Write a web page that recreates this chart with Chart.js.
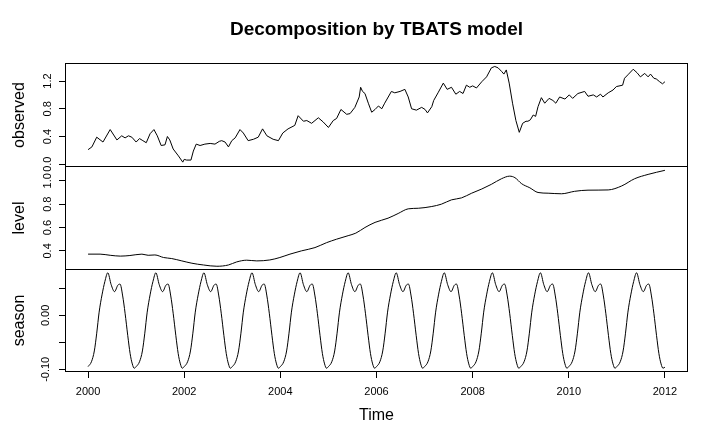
<!DOCTYPE html>
<html>
<head>
<meta charset="utf-8">
<script src="https://cdn.jsdelivr.net/npm/chart.js@4.4.0/dist/chart.umd.min.js"></script>
<style>
  body { margin: 0; background: #fff; }
  .panel { position: absolute; left: 0; width: 715px; }
</style>
</head>
<body>
<div class="panel" style="top:0;height:180px"><canvas id="obsChart"></canvas></div>
<div class="panel" style="top:166px;height:104px"><canvas id="levelChart"></canvas></div>
<div class="panel" style="top:269px;height:179px"><canvas id="seasonChart"></canvas></div>
<script>
// observed series (decimal years, value)
const obsTime = [2000.00,2000.08,2000.18,2000.31,2000.46,2000.60,2000.70,2000.77,2000.84,2000.91,
  2001.00,2001.07,2001.14,2001.21,2001.29,2001.37,2001.44,2001.52,2001.60,2001.65,2001.70,2001.77,2001.88,2001.97,
  2002.00,2002.05,2002.14,2002.19,2002.25,2002.33,2002.43,2002.54,2002.64,2002.73,2002.78,2002.85,2002.92,2002.99,
  2003.06,2003.16,2003.23,2003.33,2003.44,2003.54,2003.63,2003.72,2003.85,2003.96,
  2004.05,2004.16,2004.30,2004.37,2004.48,2004.55,2004.65,2004.79,2004.89,
  2005.00,2005.10,2005.17,2005.26,2005.38,2005.45,2005.55,2005.64,2005.67,2005.71,2005.76,2005.83,2005.90,2005.97,
  2006.04,2006.11,2006.17,2006.31,2006.38,2006.49,2006.59,2006.66,2006.73,2006.83,2006.94,
  2007.01,2007.06,2007.15,2007.19,2007.28,2007.39,2007.47,2007.56,2007.65,2007.73,2007.80,2007.87,2007.94,
  2008.00,2008.08,2008.19,2008.29,2008.39,2008.46,2008.53,2008.60,2008.65,2008.70,2008.76,2008.83,2008.90,2008.97,
  2009.04,2009.11,2009.15,2009.20,2009.26,2009.31,2009.36,2009.43,2009.50,2009.59,2009.67,2009.73,2009.81,2009.92,
  2010.01,2010.08,2010.19,2010.33,2010.40,2010.51,2010.58,2010.66,2010.71,2010.82,2010.92,2010.99,
  2011.12,2011.16,2011.23,2011.34,2011.42,2011.49,2011.58,2011.65,2011.70,2011.77,2011.82,2011.89,2011.95,2012.00];
const obsValue = [0.21,0.25,0.39,0.32,0.50,0.35,0.41,0.38,0.41,0.39,
  0.32,0.37,0.34,0.31,0.44,0.50,0.41,0.27,0.28,0.40,0.35,0.22,0.12,0.03,
  0.07,0.06,0.06,0.19,0.29,0.27,0.29,0.30,0.29,0.33,0.34,0.32,0.25,0.34,
  0.38,0.50,0.45,0.34,0.36,0.39,0.51,0.41,0.36,0.34,
  0.45,0.51,0.56,0.70,0.62,0.63,0.59,0.67,0.61,
  0.53,0.63,0.66,0.79,0.72,0.73,0.82,0.97,1.11,1.05,1.02,0.88,0.75,0.79,
  0.84,0.80,0.88,1.05,1.03,1.05,1.08,0.97,0.80,0.78,0.82,
  0.79,0.74,0.83,0.92,1.03,1.17,1.08,1.11,1.01,1.05,1.02,1.14,1.11,
  1.13,1.10,1.19,1.26,1.39,1.41,1.39,1.34,1.30,1.36,1.17,0.88,0.63,0.46,
  0.59,0.62,0.62,0.64,0.71,0.69,0.83,0.96,0.88,0.95,0.92,0.88,0.97,0.94,
  1.00,0.95,1.02,1.05,0.98,1.00,0.97,1.01,0.97,1.03,1.07,1.12,
  1.14,1.24,1.29,1.37,1.32,1.26,1.31,1.26,1.30,1.24,1.23,1.19,1.16,1.19];

// level series
const levelTime = [2000.00,2000.25,2000.46,2000.67,2000.87,2001.12,2001.25,2001.39,2001.57,2001.74,2001.95,
  2002.16,2002.40,2002.68,2002.92,2003.09,2003.30,2003.51,2003.78,2003.99,2004.20,2004.44,2004.72,2004.96,
  2005.17,2005.41,2005.57,2005.76,2005.97,2006.24,2006.45,2006.66,2006.87,2007.15,2007.35,2007.56,2007.77,2007.98,
  2008.19,2008.39,2008.60,2008.77,2008.88,2009.02,2009.19,2009.36,2009.57,2009.85,2010.12,2010.40,2010.82,
  2011.10,2011.37,2011.65,2012.00];
const levelValue = [0.372,0.372,0.362,0.355,0.360,0.372,0.362,0.365,0.343,0.334,0.314,
  0.294,0.279,0.268,0.279,0.305,0.320,0.314,0.322,0.343,0.372,0.400,0.428,0.470,
  0.500,0.530,0.552,0.600,0.644,0.680,0.720,0.760,0.765,0.780,0.800,0.837,0.854,0.894,
  0.930,0.970,1.018,1.040,1.027,0.975,0.940,0.900,0.894,0.889,0.910,0.920,0.922,
  0.956,1.018,1.055,1.090];

// season series: one row per year, sampled at the same points in each year
const seasonYears = [2000,2001,2002,2003,2004,2005,2006,2007,2008,2009,2010,2011];
const seasonPhase = [0,0.07,0.13,0.18,0.23,0.29,0.35,0.41,0.48,0.55,0.62,0.665,0.72,0.77,0.825,0.875,0.92,0.96];
const seasonValues = [
  [-0.095,-0.086,-0.066,-0.033,0.006,0.038,0.063,0.079,0.057,0.044,0.056,0.058,0.036,0.004,-0.037,-0.071,-0.090,-0.098],
  [-0.095,-0.086,-0.066,-0.033,0.006,0.038,0.063,0.079,0.057,0.044,0.056,0.058,0.036,0.004,-0.037,-0.071,-0.090,-0.098],
  [-0.095,-0.086,-0.066,-0.033,0.006,0.038,0.063,0.079,0.057,0.044,0.056,0.058,0.036,0.004,-0.037,-0.071,-0.090,-0.098],
  [-0.095,-0.086,-0.066,-0.033,0.006,0.038,0.063,0.079,0.057,0.044,0.056,0.058,0.036,0.004,-0.037,-0.071,-0.090,-0.098],
  [-0.095,-0.086,-0.066,-0.033,0.006,0.038,0.063,0.079,0.057,0.044,0.056,0.058,0.036,0.004,-0.037,-0.071,-0.090,-0.098],
  [-0.095,-0.086,-0.066,-0.033,0.006,0.038,0.063,0.079,0.057,0.044,0.056,0.058,0.036,0.004,-0.037,-0.071,-0.090,-0.098],
  [-0.095,-0.086,-0.066,-0.033,0.006,0.038,0.063,0.079,0.057,0.044,0.056,0.058,0.036,0.004,-0.037,-0.071,-0.090,-0.098],
  [-0.095,-0.086,-0.066,-0.033,0.006,0.038,0.063,0.079,0.057,0.044,0.056,0.058,0.036,0.004,-0.037,-0.071,-0.090,-0.098],
  [-0.095,-0.086,-0.066,-0.033,0.006,0.038,0.063,0.079,0.057,0.044,0.056,0.058,0.036,0.004,-0.037,-0.071,-0.090,-0.098],
  [-0.095,-0.086,-0.066,-0.033,0.006,0.038,0.063,0.079,0.057,0.044,0.056,0.058,0.036,0.004,-0.037,-0.071,-0.090,-0.098],
  [-0.095,-0.086,-0.066,-0.033,0.006,0.038,0.063,0.079,0.057,0.044,0.056,0.058,0.036,0.004,-0.037,-0.071,-0.090,-0.098],
  [-0.095,-0.086,-0.066,-0.033,0.006,0.038,0.063,0.079,0.057,0.044,0.056,0.058,0.036,0.004,-0.037,-0.071,-0.090,-0.098]
];
const seasonEnd = {x: 2012.00, y: -0.096};

const xTicks = [2000,2002,2004,2006,2008,2010,2012];
const obsTicks = [0, 0.4, 0.8, 1.2];
const levelTicks = [0.4, 0.6, 0.8, 1.0];
const seasonTicks = [-0.10, -0.05, 0, 0.05];
const seasonLabelled = [-0.10, 0];

const X_MIN = 1999.52, X_MAX = 2012.48;

Chart.defaults.font.family = '"Liberation Sans", Arial, sans-serif';
Chart.defaults.color = '#000';
Chart.defaults.animation = false;

function pairs(xs, ys) {
  return xs.map((x, i) => ({x: x, y: ys[i]}));
}

const seasonPoints = [];
seasonYears.forEach((yr, r) => {
  seasonPhase.forEach((p, c) => seasonPoints.push({x: yr + p, y: seasonValues[r][c]}));
});
seasonPoints.push(seasonEnd);

// box around each panel, like R's plot frame
const frame = {
  id: 'frame',
  afterDraw(chart) {
    const {ctx, chartArea: a} = chart;
    ctx.save();
    ctx.strokeStyle = '#000';
    ctx.lineWidth = 1;
    ctx.strokeRect(Math.round(a.left) + 0.5, Math.round(a.top) + 0.5,
      Math.round(a.right - a.left) - 1, Math.round(a.bottom - a.top) - 1);
    ctx.restore();
  }
};

function yAxis(title, min, max, ticks, fmt, pad) {
  return {
    position: 'left',
    min: min,
    max: max,
    afterBuildTicks: s => { s.ticks = ticks.map(v => ({value: v})); },
    afterFit: s => { s.width = 65; s.paddingTop = 0; s.paddingBottom = 0; },
    border: {display: false},
    grid: {drawOnChartArea: false, color: '#000', tickLength: 6},
    ticks: {minRotation: 90, maxRotation: 90, crossAlign: 'center', padding: pad,
      font: {size: 11}, color: '#000', callback: fmt},
    title: {display: true, text: title, font: {size: 16}, color: '#000', padding: {top: 10, bottom: 0}}
  };
}

function hiddenX() {
  return {type: 'linear', display: false, min: X_MIN, max: X_MAX};
}

function lineSet(points, smooth) {
  return {
    data: points,
    borderColor: '#000',
    borderWidth: 1,
    pointRadius: 0,
    fill: false,
    tension: 0,
    cubicInterpolationMode: smooth ? 'monotone' : 'default'
  };
}

const basePlugins = {legend: {display: false}, tooltip: {enabled: false}};

new Chart(document.getElementById('obsChart'), {
  type: 'line',
  data: {datasets: [lineSet(pairs(obsTime, obsValue), false)]},
  options: {
    responsive: true,
    maintainAspectRatio: false,
    layout: {padding: {left: 0, right: 27, top: 0, bottom: 13}},
    plugins: Object.assign({
      title: {display: true, text: 'Decomposition by TBATS model', fullSize: false, color: '#000',
        font: {size: 19, weight: 'bold'}, padding: {top: 18.6, bottom: 21.6}}
    }, basePlugins),
    scales: {
      x: hiddenX(),
      y: yAxis('observed', -0.04, 1.46, obsTicks, v => v.toFixed(1), 3.4)
    }
  },
  plugins: [frame]
});

new Chart(document.getElementById('levelChart'), {
  type: 'line',
  data: {datasets: [lineSet(pairs(levelTime, levelValue), true)]},
  options: {
    responsive: true,
    maintainAspectRatio: false,
    layout: {padding: {left: 0, right: 27, top: 0, bottom: 0}},
    plugins: basePlugins,
    scales: {
      x: hiddenX(),
      y: yAxis('level', 0.236, 1.127, levelTicks, v => v.toFixed(1), 3.4)
    }
  },
  plugins: [frame]
});

new Chart(document.getElementById('seasonChart'), {
  type: 'line',
  data: {datasets: [lineSet(seasonPoints, true)]},
  options: {
    responsive: true,
    maintainAspectRatio: false,
    layout: {padding: {left: 0, right: 27, top: 0, bottom: 0}},
    plugins: basePlugins,
    scales: {
      x: {
        type: 'linear',
        min: X_MIN,
        max: X_MAX,
        afterBuildTicks: s => { s.ticks = xTicks.map(v => ({value: v})); },
        afterFit: s => { s.height = 76; s.paddingLeft = 0; s.paddingRight = 0; },
        border: {display: false},
        grid: {drawOnChartArea: false, color: '#000', tickLength: 6},
        ticks: {maxRotation: 0, padding: 7, font: {size: 11}, color: '#000', callback: v => String(v)},
        title: {display: true, text: 'Time', font: {size: 16}, color: '#000', padding: {top: 0, bottom: 23}}
      },
      y: yAxis('season', -0.105, 0.086, seasonTicks,
        v => seasonLabelled.some(t => Math.abs(t - v) < 1e-9) ? v.toFixed(2) : '', 0.5)
    }
  },
  plugins: [frame]
});
</script>
</body>
</html>
